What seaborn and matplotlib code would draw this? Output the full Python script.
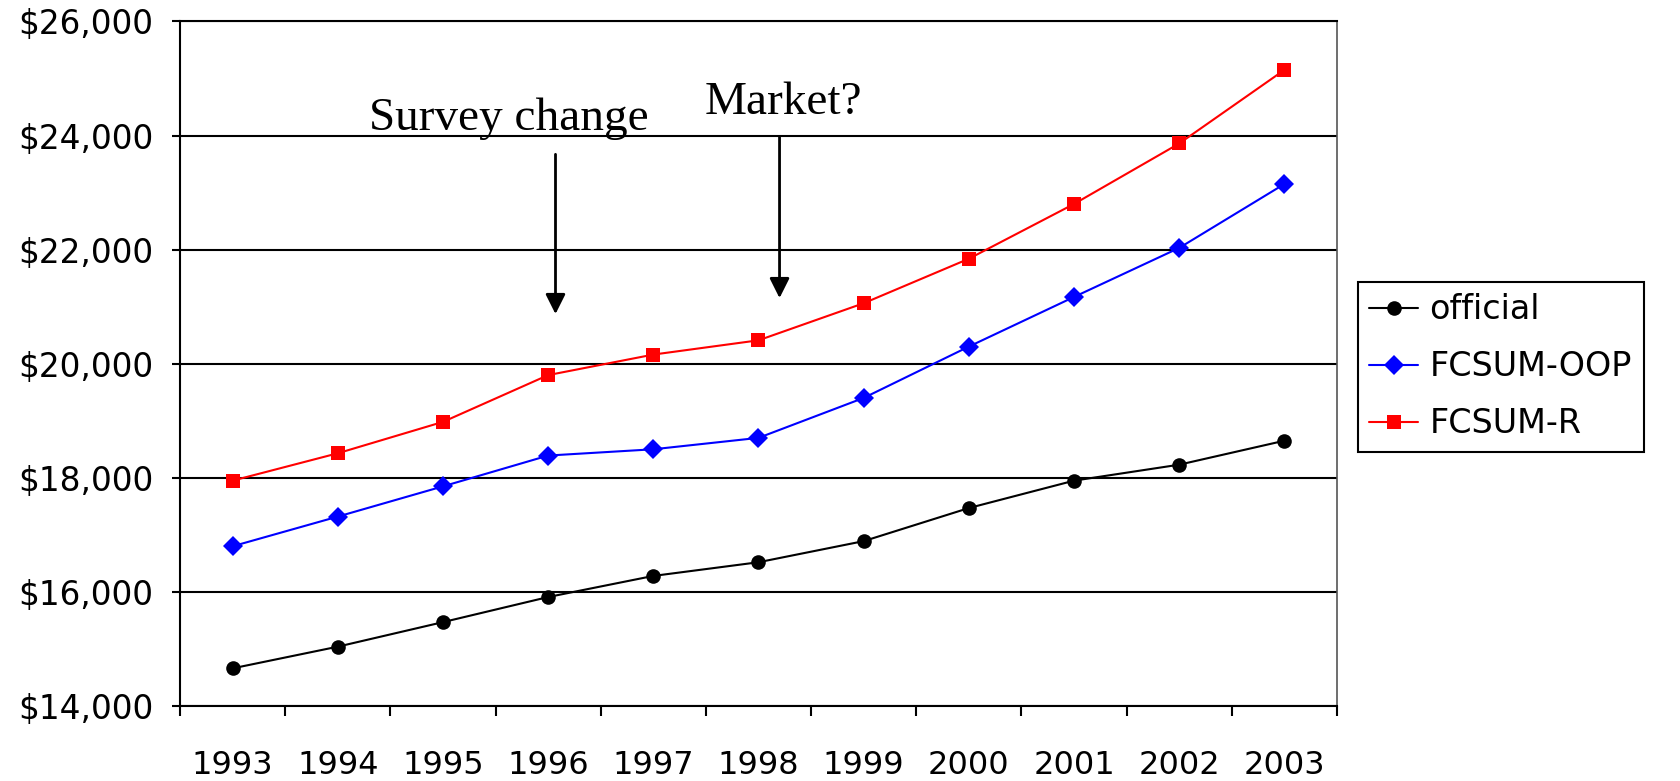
import matplotlib
matplotlib.use("Agg")
import matplotlib.pyplot as plt
import seaborn as sns
import pandas as pd
import numpy as np

years = ["1993", "1994", "1995", "1996", "1997", "1998", "1999", "2000", "2001", "2002", "2003"]
official = [14660, 15040, 15470, 15910, 16280, 16520, 16890, 17470, 17950, 18230, 18650]
fcsum_oop = [16800, 17320, 17850, 18390, 18500, 18700, 19400, 20300, 21170, 22030, 23150]
fcsum_r = [17950, 18430, 18980, 19800, 20160, 20410, 21060, 21840, 22800, 23860, 25150]
series_names = ["official", "FCSUM-OOP", "FCSUM-R"]
y_ticks = [14000, 16000, 18000, 20000, 22000, 24000, 26000]

sns.set_style("white")
plt.rcParams["font.family"] = ["DejaVu Sans"]
plt.rcParams["text.color"] = "black"
plt.rcParams["xtick.color"] = "black"
plt.rcParams["ytick.color"] = "black"

rows = []
for name, vals in zip(series_names, [official, fcsum_oop, fcsum_r]):
    for i, (yr, v) in enumerate(zip(years, vals)):
        rows.append({"idx": i, "year": yr, "value": v, "series": name})
df = pd.DataFrame(rows)

fig = plt.figure(figsize=(16.81, 7.81), dpi=100)
ax = fig.add_axes([180 / 1681, 1 - 706 / 781, 1157 / 1681, 684.6 / 781])

palette = {"official": "#000000", "FCSUM-OOP": "#0000FF", "FCSUM-R": "#FF0000"}
markers = {"official": "o", "FCSUM-OOP": "D", "FCSUM-R": "s"}
sns.lineplot(data=df, x="idx", y="value", hue="series", style="series",
             hue_order=series_names, style_order=series_names,
             palette=palette, markers=markers, dashes=False,
             markersize=10.5, markeredgewidth=0, linewidth=1.5, ax=ax)

ax.set_xlim(-0.5, len(years) - 0.5)
ax.set_ylim(y_ticks[0], y_ticks[-1])
ax.set_yticks(y_ticks)
ax.set_yticklabels([f"${v:,}" for v in y_ticks])
ax.set_xticks(range(len(years)))
ax.set_xticklabels(years)
ax.set_xticks(np.arange(-0.5, len(years), 1.0), minor=True)
ax.tick_params(axis="x", which="major", length=0, pad=32, labelsize=23, labelcolor="black")
ax.tick_params(axis="x", which="minor", length=7, width=1.5, color="black", direction="out", bottom=True)
ax.tick_params(axis="y", which="major", length=6, width=1.5, color="black", direction="out", pad=13, labelsize=23.5, left=True, labelcolor="black")
ax.set_xlabel("")
ax.set_ylabel("")

ax.yaxis.grid(True, color="black", linewidth=1.5)
ax.set_axisbelow(True)
for side in ["left", "bottom", "top"]:
    ax.spines[side].set_color("black")
    ax.spines[side].set_linewidth(1.5)
ax.spines["right"].set_color("#555555")
ax.spines["right"].set_linewidth(1.2)

serif = ["Liberation Serif", "DejaVu Serif"]
ax.text(2.63, 24090, "Survey change", ha="center", va="baseline", fontsize=34, family=serif, color="black")
ax.text(5.24, 24370, "Market?", ha="center", va="baseline", fontsize=34, family=serif, color="black")
arrow = dict(arrowstyle="-|>", mutation_scale=30, lw=2, color="black", shrinkA=0, shrinkB=0)
ax.annotate("", xy=(3.07, 20870), xytext=(3.07, 23670), arrowprops=arrow)
ax.annotate("", xy=(5.20, 21150), xytext=(5.20, 23970), arrowprops=arrow)

leg = ax.legend(loc="upper left", bbox_to_anchor=(1.018, 0.62), fontsize=24,
                frameon=True, fancybox=False, edgecolor="black", framealpha=1,
                handlelength=1.45, handletextpad=0.35, labelspacing=0.72,
                borderpad=0.35, borderaxespad=0, title=None)
leg.get_frame().set_linewidth(1.5)
for t in leg.get_texts():
    t.set_color("black")

fig.savefig("out.png", dpi=100)
